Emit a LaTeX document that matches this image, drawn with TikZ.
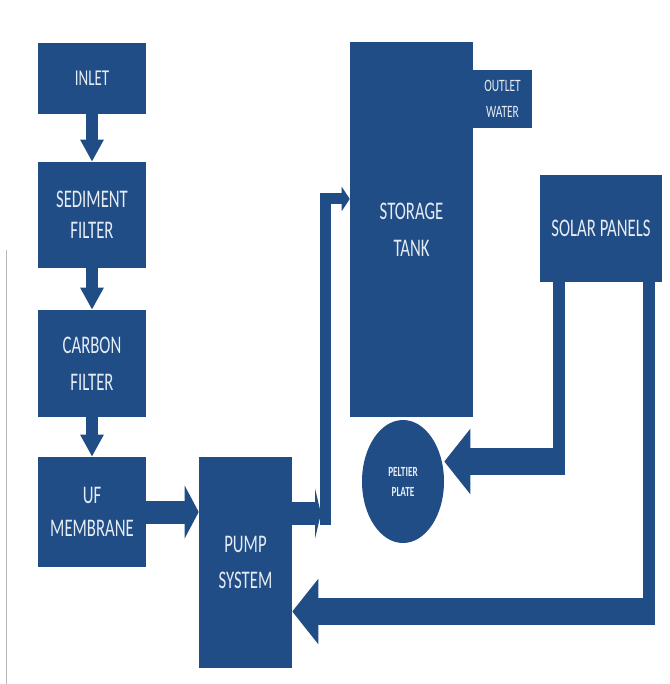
\documentclass[tikz,border=0pt]{standalone}
\usepackage{fontspec}
\setmainfont{Carlito}[FakeStretch=0.66]
\usetikzlibrary{arrows.meta,shapes.geometric}
\definecolor{boxblue}{HTML}{204D86}
\definecolor{labelwhite}{HTML}{E6ECF4}

\begin{document}
\begin{tikzpicture}[x=0.75pt,y=-0.75pt,
    block/.style={fill=boxblue, text=labelwhite, inner sep=0pt, align=center,
      font=\fontsize{19}{27.5}\selectfont},
    filterbox/.style={block, minimum width=81pt},
    downarrow/.style={boxblue, line width=9pt, -{Triangle[width=16.5pt,length=16.5pt]}},
    fatarrow/.style={boxblue, line width=17.25pt, -{Triangle[width=39pt,length=10.5pt]}},
    pipe/.style={boxblue, line width=9pt},
    powerarrow/.style={boxblue, line width=20.25pt, -{Triangle[width=48pt,length=19.5pt]}}]
      \useasboundingbox (0,0) rectangle (669,684);
      \draw[gray!55, line width=0.8pt] (6.5,250) -- (6.5,684);

      % filter chain
      \node[filterbox, minimum height=53.25pt, font=\fontsize{17}{24}\selectfont] (inlet) at (92,78.5) {INLET};
      \node[filterbox, minimum height=79.5pt, font=\fontsize{19}{23.5}\selectfont] (sediment) at (92,215) {SEDIMENT\\FILTER};
      \node[filterbox, minimum height=80.25pt] (carbon) at (92,363.5) {CARBON\\FILTER};
      \node[filterbox, minimum height=82.5pt, font=\fontsize{19}{25}\selectfont] (uf) at (92,512) {UF\\MEMBRANE};
      \draw[downarrow] (inlet) -- (sediment);
      \draw[downarrow] (sediment) -- (carbon);
      \draw[downarrow] (carbon) -- (uf);

      \node[block, minimum width=69.75pt, minimum height=158.25pt] (pump) at (245.5,562.5) {PUMP\\SYSTEM};
      \draw[fatarrow] (uf.east) -- (uf.east -| pump.west);

      % tank
      \node[block, minimum width=92.25pt, minimum height=281.25pt] (tank) at (411.5,229.5) {STORAGE\\TANK};
      \node[block, minimum width=44.25pt, minimum height=43.5pt,
        font=\fontsize{13}{19}\selectfont] (outlet) at (502.5,99) {OUTLET\\WATER};
      \coordinate (riser) at (321,513.5);
      \coordinate (riserfoot) at (325.5,525);
      \draw[boxblue, line width=17.25pt, -{Triangle[width=37.5pt,length=4.5pt]}] (pump.east |- riser) -- (riser);
      \draw[boxblue, line width=8.25pt, -{Triangle[width=18pt,length=6pt]}] (riserfoot) |- ([yshift=22.9pt]tank.west);

      % power
      \node[block, minimum width=91.5pt, minimum height=80.25pt] (solar) at (601,228.5) {SOLAR PANELS};
      \node[block, ellipse, minimum width=61.5pt, minimum height=92.25pt,
        font=\bfseries\fontsize{10.5}{15}\selectfont] (peltier) at (403,481.5) {PELTIER\\PLATE};
      \coordinate (pelbend) at (565,461.5);
      \coordinate (pumpbend) at (655,611.5);
      \draw[pipe] ([xshift=-31.5pt]solar.south) -- ++(0,193);
      \draw[powerarrow] (pelbend) -- (pelbend -| peltier.east);
      \draw[pipe] ([xshift=36pt]solar.south) -- ++(0,343);
      \draw[powerarrow] (pumpbend) -- (pumpbend -| pump.east);
    \end{tikzpicture}
\end{document}
